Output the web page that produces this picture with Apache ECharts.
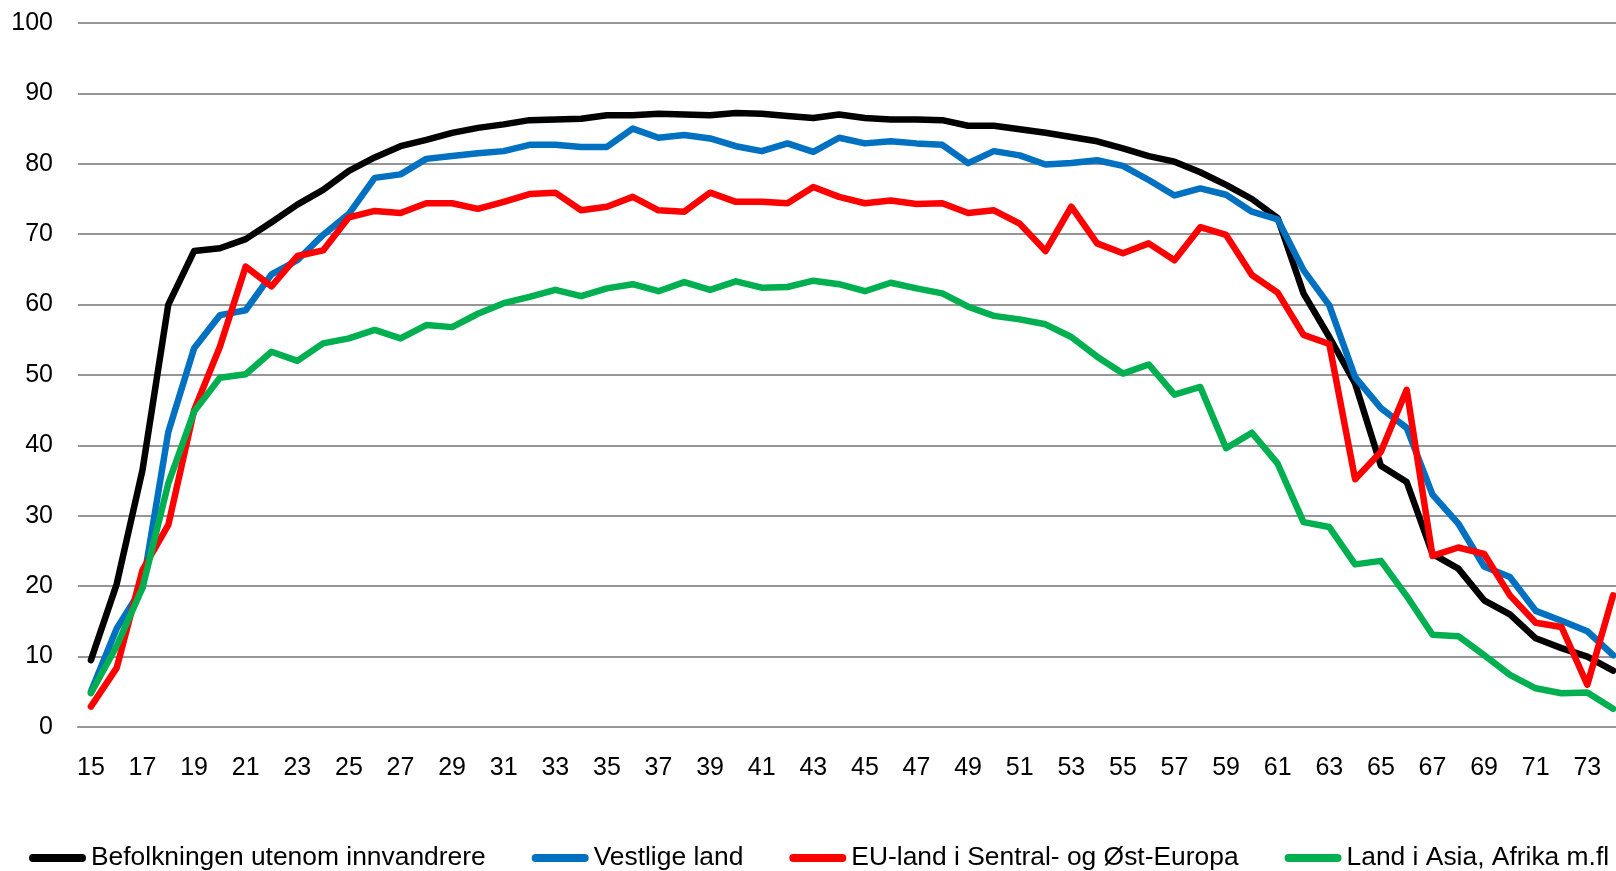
<!DOCTYPE html>
<html>
<head>
<meta charset="utf-8">
<title>Sysselsatte etter alder</title>
<script src="https://cdn.jsdelivr.net/npm/echarts@6/dist/echarts.min.js"></script>
<style>
  html, body { margin: 0; padding: 0; background: #fff; }
  #chart { width: 1616px; height: 871px; }
</style>
</head>
<body>
<div id="chart"></div>
<script>
// alder (x-akse)
const ages = [
  "15", "16", "17", "18", "19", "20", "21", "22", "23", "24",
  "25", "26", "27", "28", "29", "30", "31", "32", "33", "34",
  "35", "36", "37", "38", "39", "40", "41", "42", "43", "44",
  "45", "46", "47", "48", "49", "50", "51", "52", "53", "54",
  "55", "56", "57", "58", "59", "60", "61", "62", "63", "64",
  "65", "66", "67", "68", "69", "70", "71", "72", "73", "74"
];

const yTicks = [0, 10, 20, 30, 40, 50, 60, 70, 80, 90, 100];

const seriesNames = [
  "Befolkningen utenom innvandrere",
  "Vestlige land",
  "EU-land i Sentral- og Øst-Europa",
  "Land i Asia, Afrika m.fl"
];

const befolkning = [
  9.5, 20.3, 36.5, 60.0, 67.6, 68.0, 69.3, 71.7, 74.2, 76.3,
  79.0, 80.9, 82.5, 83.4, 84.4, 85.1, 85.6, 86.2, 86.3, 86.4,
  86.9, 86.9, 87.1, 87.0, 86.9, 87.2, 87.1, 86.8, 86.5, 87.0,
  86.5, 86.3, 86.3, 86.2, 85.4, 85.4, 84.9, 84.4, 83.8, 83.2,
  82.2, 81.1, 80.3, 78.8, 77.0, 75.0, 72.3, 61.6, 55.4, 48.8,
  37.1, 34.8, 24.6, 22.5, 18.0, 16.0, 12.6, 11.2, 10.0, 8.0
];

const vestlige = [
  5.0, 14.0, 19.8, 41.9, 53.8, 58.5, 59.2, 64.3, 66.3, 69.9,
  72.9, 78.0, 78.5, 80.7, 81.1, 81.5, 81.8, 82.7, 82.7, 82.4,
  82.4, 85.0, 83.7, 84.1, 83.6, 82.5, 81.8, 82.9, 81.7, 83.7,
  82.9, 83.2, 82.9, 82.7, 80.1, 81.8, 81.2, 79.9, 80.1, 80.5,
  79.7, 77.7, 75.5, 76.5, 75.6, 73.2, 72.1, 64.9, 59.9, 49.7,
  45.3, 42.5, 33.0, 28.9, 22.8, 21.3, 16.5, 15.1, 13.6, 10.2
];

const euSentralOst = [
  2.9, 8.4, 22.3, 28.7, 45.0, 54.0, 65.4, 62.6, 66.9, 67.7,
  72.4, 73.3, 73.0, 74.4, 74.4, 73.6, 74.6, 75.7, 75.9, 73.4,
  73.9, 75.3, 73.4, 73.2, 75.9, 74.6, 74.6, 74.4, 76.7, 75.3,
  74.4, 74.8, 74.3, 74.4, 73.0, 73.4, 71.5, 67.6, 73.9, 68.7,
  67.3, 68.7, 66.3, 71.0, 69.9, 64.2, 61.7, 55.7, 54.4, 35.2,
  39.1, 47.9, 24.3, 25.5, 24.6, 18.7, 14.8, 14.2, 6.0, 18.7
];

const asiaAfrika = [
  4.8, 11.5, 19.8, 34.6, 44.8, 49.6, 50.1, 53.3, 52.0, 54.5,
  55.2, 56.4, 55.2, 57.1, 56.8, 58.7, 60.2, 61.1, 62.1, 61.2,
  62.3, 62.9, 61.9, 63.2, 62.1, 63.3, 62.4, 62.5, 63.4, 62.9,
  61.9, 63.1, 62.3, 61.6, 59.7, 58.4, 57.9, 57.2, 55.4, 52.6,
  50.2, 51.5, 47.2, 48.3, 39.6, 41.8, 37.4, 29.1, 28.4, 23.1,
  23.6, 18.6, 13.1, 12.9, 10.2, 7.4, 5.5, 4.8, 4.9, 2.6
];

const colors = ["#000000", "#0070c0", "#ff0000", "#00b050"];
const font = "'Liberation Sans', Arial, sans-serif";

const lineSeries = (name, data, color) => ({
  name,
  type: "line",
  data,
  showSymbol: false,
  symbol: "none",
  smooth: false,
  color,
  lineStyle: { color, width: 6.5, join: "round", cap: "round" },
  emphasis: { disabled: true },
});

const chart = echarts.init(document.getElementById("chart"), null, { renderer: "canvas" });

chart.setOption({
  animation: false,
  backgroundColor: "#ffffff",
  textStyle: { fontFamily: font },
  // plottet går litt ut over høyre kant, som i originalen
  grid: {
    left: 78,
    width: 1548,
    top: 23,
    bottom: 144,
    containLabel: false,
    outerBoundsMode: "none",
  },
  legend: {
    left: 29,
    top: 845,
    padding: 0,
    itemGap: 46,
    itemWidth: 57,
    itemHeight: 8,
    icon: "path://M4,0 L53,0 A4,4 0 0 1 53,8 L4,8 A4,4 0 0 1 4,0 Z",
    textStyle: { fontSize: 26.4, color: "#000", fontFamily: font },
    data: seriesNames,
  },
  xAxis: {
    type: "category",
    data: ages,
    boundaryGap: true,
    axisLine: { show: true, lineStyle: { color: "#969696", width: 2 } },
    axisTick: { show: false },
    axisLabel: {
      interval: 1,
      margin: 29,
      fontSize: 25,
      color: "#000",
      fontFamily: font,
    },
    splitLine: { show: false },
  },
  yAxis: {
    type: "value",
    min: yTicks[0],
    max: yTicks[yTicks.length - 1],
    interval: 10,
    axisLine: { show: false },
    axisTick: { show: false },
    axisLabel: { margin: 25, fontSize: 25, color: "#000", fontFamily: font },
    splitLine: { show: true, lineStyle: { color: "#969696", width: 2 } },
  },
  series: [
    lineSeries(seriesNames[0], befolkning, colors[0]),
    lineSeries(seriesNames[1], vestlige, colors[1]),
    lineSeries(seriesNames[2], euSentralOst, colors[2]),
    lineSeries(seriesNames[3], asiaAfrika, colors[3]),
  ],
});

window.addEventListener("resize", () => chart.resize());
</script>
</body>
</html>
